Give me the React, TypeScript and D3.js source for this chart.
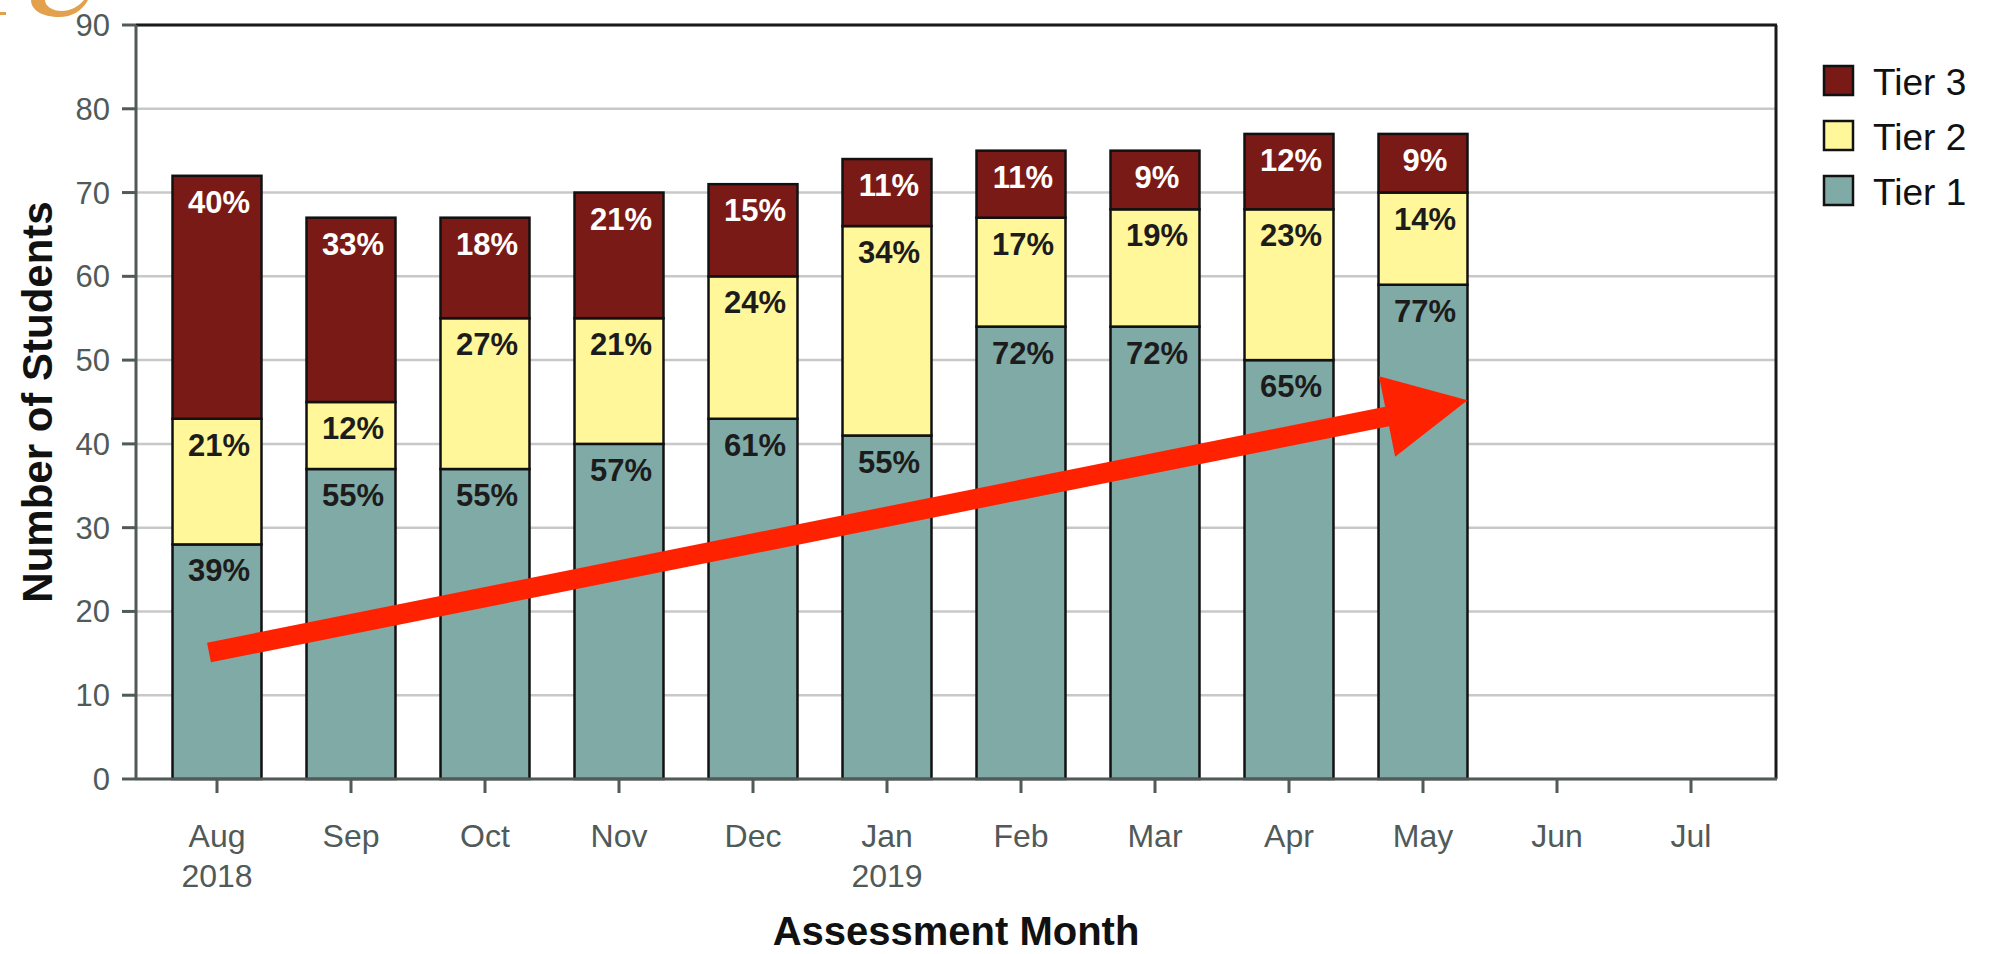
import React from 'react';
import * as d3 from 'd3';

// months on the x axis (Jun / Jul have no assessment yet)
const months = ['Aug', 'Sep', 'Oct', 'Nov', 'Dec', 'Jan', 'Feb', 'Mar', 'Apr', 'May', 'Jun', 'Jul'];
const years = ['2018', '', '', '', '', '2019', '', '', '', '', '', ''];

// number of students per tier
const tier1 = [28, 37, 37, 40, 43, 41, 54, 54, 50, 59];
const tier2 = [15, 8, 18, 15, 17, 25, 13, 14, 18, 11];
const tier3 = [29, 22, 12, 15, 11, 8, 8, 7, 9, 7];

const tierKeys = ['tier1', 'tier2', 'tier3'];
const tierNames = { tier1: 'Tier 1', tier2: 'Tier 2', tier3: 'Tier 3' };
const tierColors = { tier1: '#7faaa6', tier2: '#fff799', tier3: '#7a1a16' };
const labelColors = { tier1: '#1c1c1c', tier2: '#1c1c1c', tier3: '#ffffff' };

// trend arrow annotation, in data terms
const arrowFrom = { month: 'Aug', value: 15.1 };
const arrowTo = { month: 'May', value: 45.2 };

const W = 1997;
const H = 954;
const plot = { left: 136, right: 1776, top: 25, bottom: 779 };
const font = '"Liberation Sans", Arial, sans-serif';
const axisColor = '#505a59';

const App = () => {
    const rows = tier1.map((_, i) => ({
        month: months[i],
        tier1: tier1[i],
        tier2: tier2[i],
        tier3: tier3[i],
        total: tier1[i] + tier2[i] + tier3[i],
    }));

    const x = d3.scaleBand<string>()
        .domain(months)
        .range([plot.left + 14, plot.right - 18])
        .paddingInner(0.336)
        .paddingOuter(0.168);

    const y = d3.scaleLinear().domain([0, 90]).range([plot.bottom, plot.top]);

    const series = d3.stack<any>().keys(tierKeys)(rows);

    // arrow geometry
    const ax0 = (x(arrowFrom.month) as number) + x.bandwidth() * 0.41;
    const ay0 = y(arrowFrom.value);
    const ax1 = (x(arrowTo.month) as number) + x.bandwidth();
    const ay1 = y(arrowTo.value);
    const len = Math.hypot(ax1 - ax0, ay1 - ay0);
    const ux = (ax1 - ax0) / len;
    const uy = (ay1 - ay0) / len;
    const px = -uy;
    const py = ux;
    const headLen = 82;
    const headHalf = 41;
    const shaftHalf = 10;
    const bx = ax1 - ux * headLen;
    const by = ay1 - uy * headLen;
    const arrowPts = [
        [ax0 + px * shaftHalf, ay0 + py * shaftHalf],
        [bx + px * shaftHalf, by + py * shaftHalf],
        [bx + px * headHalf, by + py * headHalf],
        [ax1, ay1],
        [bx - px * headHalf, by - py * headHalf],
        [bx - px * shaftHalf, by - py * shaftHalf],
        [ax0 - px * shaftHalf, ay0 - py * shaftHalf],
    ];

    const legendOrder = ['tier3', 'tier2', 'tier1'];

    return (
        <svg width={W} height={H} style={{ position: 'absolute', left: 0, top: 0, background: '#fff' }}>
            {/* cut-off fragment of the slide title above the chart */}
            <path d="M31,0 C31,11 44,17 59,17 C72,17 82,11 88,0 L84,0 C78,7 70,11 62,11 C52,11 45,6 45,0 Z" fill="#e3a04d" />
            <rect x={0} y={12} width={6} height={3} fill="#e3a04d" />

            {/* gridlines */}
            {y.ticks(9).map(t => (
                <line key={t} x1={plot.left} x2={plot.right} y1={y(t)} y2={y(t)}
                    stroke="#c8c8c8" strokeWidth={2.5} />
            ))}

            {/* frame top / right */}
            <line x1={plot.left} x2={plot.right + 1} y1={plot.top} y2={plot.top} stroke="#1a1a1a" strokeWidth={3} />
            <line x1={plot.right} x2={plot.right} y1={plot.top} y2={plot.bottom} stroke="#1a1a1a" strokeWidth={3} />

            {/* bars */}
            {series.map(s => (
                <g key={s.key}>
                    {s.map((d, i) => (
                        <rect key={i}
                            x={x(d.data.month)}
                            y={y(d[1])}
                            width={x.bandwidth()}
                            height={y(d[0]) - y(d[1])}
                            fill={tierColors[s.key]}
                            stroke="#111"
                            strokeWidth={2.5} />
                    ))}
                </g>
            ))}

            {/* percent labels */}
            {series.map(s => (
                <g key={'l' + s.key}>
                    {s.map((d, i) => (
                        <text key={i}
                            x={(x(d.data.month) as number) + x.bandwidth() / 2 + 2}
                            y={y(d[1]) + 37}
                            textAnchor="middle"
                            fontFamily={font}
                            fontWeight="bold"
                            fontSize={31}
                            fill={labelColors[s.key]}>
                            {Math.round((d[1] - d[0]) / d.data.total * 100) + '%'}
                        </text>
                    ))}
                </g>
            ))}

            {/* y axis */}
            <line x1={plot.left} x2={plot.left} y1={plot.top} y2={plot.bottom} stroke={axisColor} strokeWidth={3} />
            {y.ticks(9).map(t => (
                <g key={'yt' + t}>
                    <line x1={plot.left - 14} x2={plot.left} y1={y(t)} y2={y(t)} stroke={axisColor} strokeWidth={3} />
                    <text x={plot.left - 26} y={y(t) + 11} textAnchor="end" fontFamily={font}
                        fontSize={31} fill={axisColor}>{t}</text>
                </g>
            ))}

            {/* x axis */}
            <line x1={plot.left} x2={plot.right + 1} y1={plot.bottom} y2={plot.bottom} stroke={axisColor} strokeWidth={3} />
            {months.map((m, i) => {
                const cx = (x(m) as number) + x.bandwidth() / 2;
                return (
                    <g key={'xt' + m}>
                        <line x1={cx} x2={cx} y1={plot.bottom} y2={plot.bottom + 14} stroke={axisColor} strokeWidth={3} />
                        <text x={cx} y={847} textAnchor="middle" fontFamily={font} fontSize={32} fill={axisColor}>{m}</text>
                        {years[i] && (
                            <text x={cx} y={887} textAnchor="middle" fontFamily={font} fontSize={32} fill={axisColor}>{years[i]}</text>
                        )}
                    </g>
                );
            })}

            {/* axis titles */}
            <text transform={`translate(52, ${(plot.top + plot.bottom) / 2}) rotate(-90)`}
                textAnchor="middle" fontFamily={font} fontWeight="bold" fontSize={42} fill="#111">
                Number of Students
            </text>
            <text x={956} y={945} textAnchor="middle" fontFamily={font} fontWeight="bold" fontSize={40} fill="#111">
                Assessment Month
            </text>

            {/* legend */}
            {legendOrder.map((k, i) => (
                <g key={'lg' + k} transform={`translate(1824, ${66 + i * 55})`}>
                    <rect width={29} height={29} fill={tierColors[k]} stroke="#111" strokeWidth={2.5} />
                    <text x={49} y={29} fontFamily={font} fontSize={37} fill="#111">{tierNames[k]}</text>
                </g>
            ))}

            {/* trend arrow */}
            <polygon points={arrowPts.map(p => p.join(',')).join(' ')} fill="#ff2200" />
        </svg>
    );
};

export default App;
